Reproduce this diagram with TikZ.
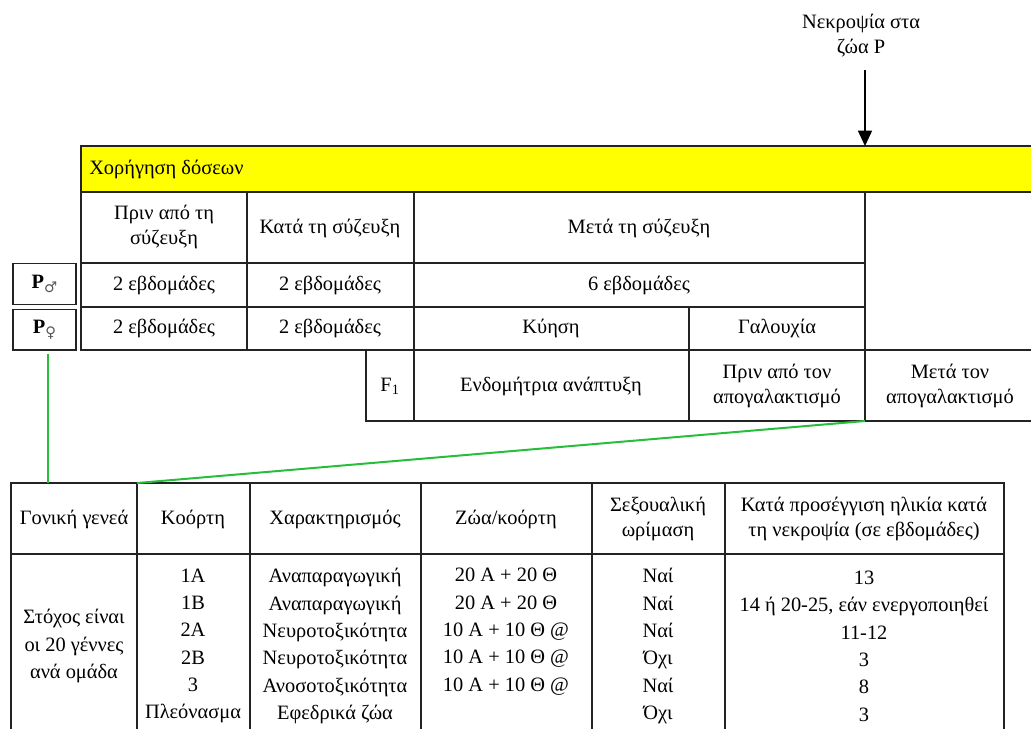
\documentclass[tikz,border=0pt]{standalone}
\usepackage{fontspec}
\setmainfont{Liberation Serif}
\newfontfamily\symfont{DejaVu Sans}
\usetikzlibrary{arrows.meta}
\definecolor{gline}{RGB}{40,190,60}
\definecolor{tline}{RGB}{35,35,35}
\definecolor{barfill}{RGB}{255,255,0}
\begin{document}
\begin{tikzpicture}[x=0.75pt,y=-0.75pt,
  txt/.style={font=\fontsize{15.3}{18.75}\selectfont, align=center, inner sep=0pt},
  coltxt/.style={font=\fontsize{15.3}{20.5}\selectfont, align=center, inner sep=0pt},
  grid/.style={draw=tline, line width=1pt},
  pbox/.style={draw=tline, line width=1pt, minimum width=47.25pt, minimum height=30.5pt, inner sep=0pt, font=\fontsize{15.3}{18}\selectfont},
  glink/.style={draw=gline, line width=1.5pt},
  downarrow/.style={draw=black, line width=1.2pt, -{Triangle[width=10.5pt,length=11.5pt]}}]
\useasboundingbox (0,0) rectangle (1031,729);
% ---------- upper table ----------
\path[fill=barfill] (81,146) rectangle (1031,192);
\draw[grid] (1031,146) -- (81,146) -- (81,350) -- (1031,350);
\draw[grid] (81,192) -- (1031,192);
\draw[grid] (81,263) -- (865,263);
\draw[grid] (81,307) -- (865,307);
\draw[grid] (366,350) -- (366,421) -- (1031,421);
\draw[grid] (247,192) -- (247,350);
\draw[grid] (414,192) -- (414,421);
\draw[grid] (865,192) -- (865,421);
\draw[grid] (689,307) -- (689,421);
\node[txt, anchor=west] (dose) at (89,169) {Χορήγηση δόσεων};
\node[txt] (h1) at (164,227) {Πριν από τη\\σύζευξη};
\node[txt] (h2) at (330,228) {Κατά τη σύζευξη};
\node[txt] (h3) at (639,228) {Μετά τη σύζευξη};
\node[txt] (m1) at (164,285) {2 εβδομάδες};
\node[txt] (m2) at (330,285) {2 εβδομάδες};
\node[txt] (m3) at (639,285) {6 εβδομάδες};
\node[txt] (f1) at (164,328) {2 εβδομάδες};
\node[txt] (f2) at (330,328) {2 εβδομάδες};
\node[txt] (f3) at (551,328) {Κύηση};
\node[txt] (f4) at (777,328) {Γαλουχία};
\node[txt] (o1) at (390,386) {F\textsubscript{1}};
\node[txt] (o2) at (551,386) {Ενδομήτρια ανάπτυξη};
\node[txt] (o3) at (777,386) {Πριν από τον\\απογαλακτισμό};
\node[txt] (o4) at (950,386) {Μετά τον\\απογαλακτισμό};
% ---------- P boxes ----------
\node[pbox] (pm) at (44.5,284) {\textbf{P}\raisebox{-3pt}{\color{black!65}\symfont\fontsize{11}{11}\selectfont ♂}};
\node[pbox] (pf) at (44.5,329.5) {\textbf{P}\raisebox{-3pt}{\color{black!65}\symfont\fontsize{11}{11}\selectfont ♀}};
% ---------- necropsy arrow ----------
\node[txt] (nek) at (861,36) {Νεκροψία στα\\ζώα P};
\coordinate (arrs) at (865,70);
\coordinate (arre) at (865,146);
\draw[downarrow] (arrs) -- (arre);
% ---------- lower table ----------
\draw[grid] (11,729) -- (11,483) -- (1004,483) -- (1004,729);
\draw[grid] (11,554) -- (1004,554);
\foreach \cx in {137,250,421,592,725} \draw[grid] (\cx,483) -- (\cx,729);
\node[txt] (t1) at (74,519) {Γονική γενεά};
\node[txt] (t2) at (193,519) {Κοόρτη};
\node[txt] (t3) at (335,519) {Χαρακτηρισμός};
\node[txt] (t4) at (506,519) {Ζώα/κοόρτη};
\node[txt] (t5) at (658,519) {Σεξουαλική\\ωρίμαση};
\node[txt] (t6) at (864,519) {Κατά προσέγγιση ηλικία κατά\\τη νεκροψία (σε εβδομάδες)};
\node[coltxt] (d1) at (74,646) {Στόχος είναι\\οι 20 γέννες\\ανά ομάδα};
\node[coltxt] (d2) at (193,646) {1Α\\1Β\\2Α\\2Β\\3\\Πλεόνασμα};
\node[coltxt] (d3) at (335,646) {Αναπαραγωγική\\Αναπαραγωγική\\Νευροτοξικότητα\\Νευροτοξικότητα\\Ανοσοτοξικότητα\\Εφεδρικά ζώα};
\node[coltxt, anchor=north] (d4) at (506,568) {20 Α + 20 Θ\\20 Α + 20 Θ\\10 Α + 10 Θ @\\10 Α + 10 Θ @\\10 Α + 10 Θ @};
\node[coltxt] (d5) at (658,646) {Ναί\\Ναί\\Ναί\\Όχι\\Ναί\\Όχι};
\node[coltxt] (d6) at (864,646) {13\\14 ή 20-25, εάν ενεργοποιηθεί\\11-12\\3\\8\\3};
% ---------- green links ----------
\coordinate (g1a) at (47.7,354);
\coordinate (g1b) at (47.7,483);
\coordinate (g2a) at (865,421);
\coordinate (g2b) at (137,483);
\draw[glink] (g1a) -- (g1b);
\draw[glink] (g2a) -- (g2b);
\end{tikzpicture}
\end{document}
